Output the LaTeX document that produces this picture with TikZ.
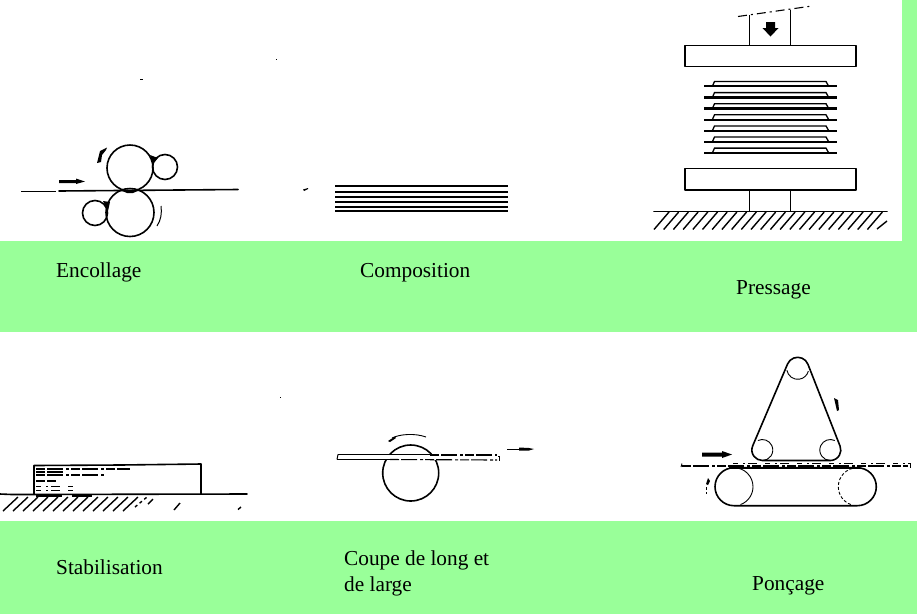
\documentclass[tikz,border=0pt]{standalone}
\usepackage{fontspec}
\setmainfont{Liberation Serif}
\tikzset{
  lab/.style={anchor=base west,inner sep=0pt,font=\fontsize{21.3}{25}\selectfont},
  ink/.style={draw=black,line width=1.6pt,line cap=round,line join=round},
  thin ink/.style={draw=black,line width=0.9pt},
  heavy/.style={draw=black,line width=2.2pt},
  hatch/.style={draw=black,line width=1.4pt},
  solid ink/.style={fill=black,draw=none},
  scan/.style={draw=black,line width=1.1pt,dash pattern=on 9pt off 2pt on 16pt off 3pt on 3pt off 2pt},
  sparse/.style={draw=black,line width=0.9pt,dash pattern=on 5pt off 5pt on 2pt off 3pt on 9pt off 8pt}
}
\definecolor{bandgreen}{HTML}{99FF99}
\begin{document}
\begin{tikzpicture}[x=1pt,y=1pt,yscale=-1]
\useasboundingbox (0,0) rectangle (917,614);
\fill[white] (0,0) rectangle (917,614);
\fill[bandgreen] (0,241) rectangle (917,332);
\fill[bandgreen] (0,521) rectangle (917,614);
\fill[bandgreen] (902,0) rectangle (917,241);

% Encollage
\draw[draw=black,line width=1pt] (21,191) -- (56,191);
\draw[ink] (59,191) -- (238,189.5);
\draw[ink] (130,168) circle (23);
\draw[ink] (130,212.5) circle (24);
\draw[ink] (165,167) circle (12.5);
\draw[ink] (95,213) circle (12.5);
\fill[black] (120,190) -- (140,190) -- (133,193) -- (127,193) -- cycle;
\fill[black] (150,155) -- (158,158) -- (153,164) -- cycle;
\fill[black] (103,201) -- (110,202) -- (108,211) -- cycle;
\path[solid ink] (59,180) -- (76,180) -- (76,178.5) -- (85,181.5) -- (76,184) -- (76,183) -- (59,183) -- cycle;
\path[solid ink] (107,147.5) -- (100,151) -- (97,163) -- (101,162) -- (102,155) -- (106,150) -- cycle;
\draw[draw=black,line width=1pt] (161,206) .. controls (162,213) and (161,220) .. (157,226);

% specks
\fill[black] (140,78.5) rectangle (143,79.5);
\fill[black] (275.5,59) rectangle (277,60);
\fill[black] (303,189.5) -- (308,188) -- (308,189) -- (304,191) -- cycle;
\fill[black] (280,396.5) rectangle (281,397.5);

% Composition
\foreach \yy in {186,192,197,202,207,211}
  \draw[draw=black,line width=1.5pt] (335,\yy) -- (508,\yy);

% Pressage
\draw[ink] (685,45.5) rectangle (856,66.5);
\draw[ink] (685,168.5) rectangle (856,190);
\draw[thin ink] (749.5,15) -- (749.5,45);
\draw[thin ink] (790.5,10) -- (790.5,45);
\draw[draw=black,line width=1.1pt,dash pattern=on 9pt off 4pt on 2pt off 4pt] (738,16.5) -- (812,6);
\path[solid ink] (766,22) -- (775,22) -- (775,28) -- (778.5,28) -- (770.5,36.5) -- (762.5,28) -- (766,28) -- cycle;
\draw[thin ink] (749.5,190) -- (749.5,211);
\draw[thin ink] (790.5,190) -- (790.5,211);
\foreach \i in {0,...,6}{
  \pgfmathsetmacro{\yy}{81.5+11.1*\i}
  \draw[draw=black,line width=1.3pt] (712.5,\yy+4.5) -- (714.5,\yy) -- (826,\yy) -- (828.5,\yy+4.5);
  \draw[heavy] (704,\yy+4.8) -- (837,\yy+4.8);
}
\draw[ink] (654,211.5) -- (887,211.5);
\foreach \xx in {654,663.7,...,870}
  \draw[hatch] (\xx,229.5) -- (\xx+15,212);
\draw[hatch] (877,229) -- (887,221);

% Stabilisation
\draw[ink] (34,494) -- (34,465.5) -- (120,465) -- (201,464) -- (201,494);
\draw[ink] (0,494) -- (12,494.5) -- (247,494);
\draw[scan] (36,469) -- (130,469);
\draw[scan] (36,472) -- (65,472);
\draw[scan] (36,475) -- (105,475);
\draw[scan] (36,481) -- (56,481);
\draw[sparse] (36,486) -- (75,486);
\draw[sparse] (36,490) -- (75,490);
\draw[heavy] (36,495.5) -- (62,495.5);
\draw[heavy] (72,495.5) -- (92,495.5);
\foreach \xx in {3,13,...,125}
  \draw[hatch] (\xx,511) -- (\xx+15,497);
\draw[hatch,dashed] (135,507) -- (147,497);
\draw[hatch] (148,504) -- (153,499);
\draw[hatch] (174,510) -- (180,503);
\draw[hatch] (238,509.5) -- (241,507);

% Coupe
\draw[ink] (410.7,473) circle (28);
\fill[white] (378,455) rectangle (445,459.5);
\draw[draw=black,line width=1.1pt] (338,454.5) -- (430,454.5);
\draw[scan] (430,455) -- (497,455);
\draw[draw=black,line width=1pt] (338,454.5) -- (337,459.5);
\draw[draw=black,line width=1.3pt] (337,459.5) -- (390,459.5);
\draw[scan] (390,459.5) -- (497,460);
\draw[draw=black,line width=1pt] (498,456) -- (500,456);
\draw[draw=black,line width=1pt] (499.5,456) -- (499.5,461);
\draw[draw=black,line width=0.8pt] (507,449) -- (522,449);
\path[solid ink] (519,447.5) -- (529,448) -- (534,449) -- (529,450.5) -- (519,450.5) -- cycle;
\draw[draw=black,line width=0.9pt] (392,438) .. controls (400,434) and (415,433) .. (426,437);
\path[solid ink] (388,441) -- (395,436.5) -- (396,438) -- (390,442) -- cycle;

% Poncage
\draw[ink] (787.6,363.9) -- (752.7,445.8)
  arc[start angle=203.4,end angle=90,radius=10.5] -- (830.3,460.5)
  arc[start angle=90,end angle=-21.8,radius=10.5] -- (807.9,364.2)
  arc[start angle=-21.8,end angle=-156.6,radius=11] -- cycle;
\draw[thin ink] (797.7,368.3) ++(170:11) arc[start angle=170,end angle=15,radius=11];
\draw[thin ink] (762.3,450) ++(-115:10.5) arc[start angle=-115,end angle=90,radius=10.5];
\draw[thin ink] (830.3,450) ++(-65:10.5) arc[start angle=-65,end angle=-270,radius=10.5];
\draw[ink] (734,467.7) -- (857.3,467.7)
  arc[start angle=-90,end angle=90,radius=19] -- (734,505.7)
  arc[start angle=90,end angle=270,radius=19];
\draw[heavy] (729,467.7) -- (860,467.7);
\draw[thin ink] (734,467.7) arc[start angle=-90,end angle=70,radius=19];
\draw[thin ink,densely dashed] (857.3,467.7) arc[start angle=-90,end angle=-250,radius=19];
\path[solid ink] (702,452.5) -- (722,452.5) -- (722,451) -- (732,454.5) -- (722,458) -- (722,456.5) -- (702,456.5) -- cycle;
\draw[scan] (682,466) -- (908,466);
\draw[sparse] (733,463.5) -- (907,463.5);
\draw[thin ink] (682,463.5) -- (681,467);
\draw[thin ink] (908,463.5) -- (910,463.5) -- (910,468);
\path[solid ink] (834,398) -- (838,400) -- (839,410) -- (837,411) -- cycle;
\path[solid ink] (708,478) -- (710,481) -- (708,485) -- (706,484) -- cycle;
\draw[thin ink,densely dashed] (706,487) -- (706,494);

% Labels
\node[lab] (encollage) at (56,277) {Encollage};
\node[lab] (composition) at (360,277) {Composition};
\node[lab] (pressage) at (736,294) {Pressage};
\node[lab] (stabilisation) at (56,574) {Stabilisation};
\node[lab] (coupe1) at (344,565) {Coupe de long et};
\node[lab] (coupe2) at (344,591) {de large};
\node[lab] (poncage) at (752,590) {Ponçage};
\end{tikzpicture}
\end{document}
